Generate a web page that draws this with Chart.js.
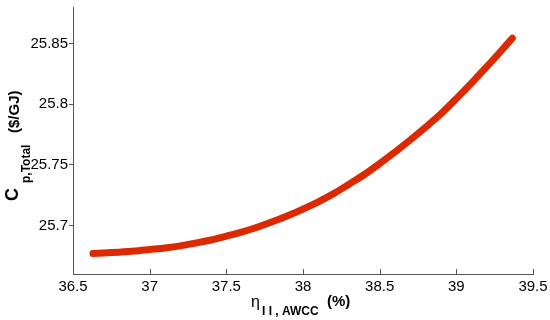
<!DOCTYPE html>
<html lang="en">
<head>
<meta charset="UTF-8">
<title>Cp,Total vs eta II</title>
<script src="https://cdn.jsdelivr.net/npm/chart.js@4.4.0/dist/chart.umd.min.js"></script>
<style>
  html, body { margin: 0; padding: 0; background: #fff; }
  #wrap { width: 550px; height: 320px; }
</style>
</head>
<body>
<div id="wrap"><canvas id="chart" width="550" height="320"></canvas></div>
<script>
// efficiency (%) and product cost ($/GJ)
const etaValues = [36.63, 36.7, 36.8, 36.9, 37.0, 37.1, 37.2, 37.3, 37.4, 37.5,
                   37.6, 37.7, 37.8, 37.9, 38.0, 38.1, 38.2, 38.3, 38.4, 38.5,
                   38.6, 38.7, 38.8, 38.9, 39.0, 39.1, 39.2, 39.3, 39.365];
const costValues = [25.6768, 25.6773, 25.6780, 25.6789, 25.6802, 25.6815, 25.6832, 25.6855, 25.6880, 25.6912,
                    25.6945, 25.6985, 25.7030, 25.7080, 25.7135, 25.7195, 25.7262, 25.7340, 25.7420, 25.7510,
                    25.7605, 25.7705, 25.7810, 25.7920, 25.8045, 25.8175, 25.8310, 25.8450, 25.8543];
const xTicks = [36.5, 37, 37.5, 38, 38.5, 39, 39.5];
const yTicks = [25.7, 25.75, 25.8, 25.85];

const axisColor = '#555555';
const font = 'Liberation Sans, Arial, Helvetica, sans-serif';

// MATLAB style: ticks on x axis point into the plot, plus the sub/superscript titles
const extras = {
  id: 'extras',
  afterDraw(chart) {
    const ctx = chart.ctx;
    const xs = chart.scales.x;
    const area = chart.chartArea;
    ctx.save();
    ctx.strokeStyle = axisColor;
    ctx.lineWidth = 1;
    xs.ticks.forEach(t => {
      const px = Math.round(xs.getPixelForValue(t.value)) + 0.5;
      ctx.beginPath();
      ctx.moveTo(px, area.bottom);
      ctx.lineTo(px, area.bottom - 5);
      ctx.stroke();
    });

    ctx.fillStyle = '#000';
    ctx.textBaseline = 'alphabetic';
    ctx.textAlign = 'left';
    // x title
    ctx.font = '16px ' + font;
    ctx.fillText('η', 251, 307);
    ctx.font = 'bold 12px ' + font;
    ctx.fillText('I I , AWCC', 262, 315);
    ctx.font = 'bold 15px ' + font;
    ctx.fillText('(%)', 327, 306);

    // y title (rotated)
    ctx.save();
    ctx.translate(18, 201);
    ctx.rotate(-Math.PI / 2);
    ctx.font = 'bold 18px ' + font;
    ctx.fillText('C', 0, 0);
    ctx.restore();
    ctx.save();
    ctx.translate(30, 183);
    ctx.rotate(-Math.PI / 2);
    ctx.font = 'bold 12px ' + font;
    ctx.fillText('p,Total', 0, 0);
    ctx.restore();
    ctx.save();
    ctx.translate(19, 133);
    ctx.rotate(-Math.PI / 2);
    ctx.font = 'bold 15px ' + font;
    ctx.fillText('($/GJ)', 0, 0);
    ctx.restore();
    ctx.restore();
  }
};

new Chart(document.getElementById('chart'), {
  type: 'scatter',
  data: {
    datasets: [{
      data: etaValues.map((x, i) => ({ x, y: costValues[i] })),
      showLine: true,
      borderColor: '#dd2900',
      backgroundColor: '#dd2900',
      borderWidth: 7,
      borderCapStyle: 'round',
      borderJoinStyle: 'round',
      tension: 0.3,
      pointRadius: 0
    }]
  },
  options: {
    responsive: false,
    animation: false,
    layout: { padding: { left: 0, right: 17, top: 7, bottom: 0 } },
    plugins: {
      legend: { display: false },
      tooltip: { enabled: false }
    },
    scales: {
      x: {
        type: 'linear',
        min: 36.5,
        max: 39.5,
        afterBuildTicks: s => { s.ticks = xTicks.map(v => ({ value: v })); },
        afterFit: s => { s.height = 46; s.paddingLeft = 0; s.paddingRight = 0; },
        border: { display: true, color: axisColor, width: 1 },
        grid: { display: true, drawOnChartArea: false, drawTicks: false },
        ticks: {
          color: '#000',
          padding: 4,
          maxRotation: 0,
          font: { family: font, size: 15 },
          callback: v => String(v)
        }
      },
      y: {
        type: 'linear',
        min: 25.66,
        max: 25.88,
        afterBuildTicks: s => { s.ticks = yTicks.map(v => ({ value: v })); },
        afterFit: s => { s.width = 73; s.paddingTop = 0; s.paddingBottom = 0; },
        border: { display: true, color: axisColor, width: 1 },
        grid: { display: true, drawOnChartArea: false, drawTicks: true, tickLength: 4, color: axisColor },
        ticks: {
          color: '#000',
          padding: 1,
          font: { family: font, size: 15 },
          callback: v => String(v)
        }
      }
    }
  },
  plugins: [extras]
});
</script>
</body>
</html>
